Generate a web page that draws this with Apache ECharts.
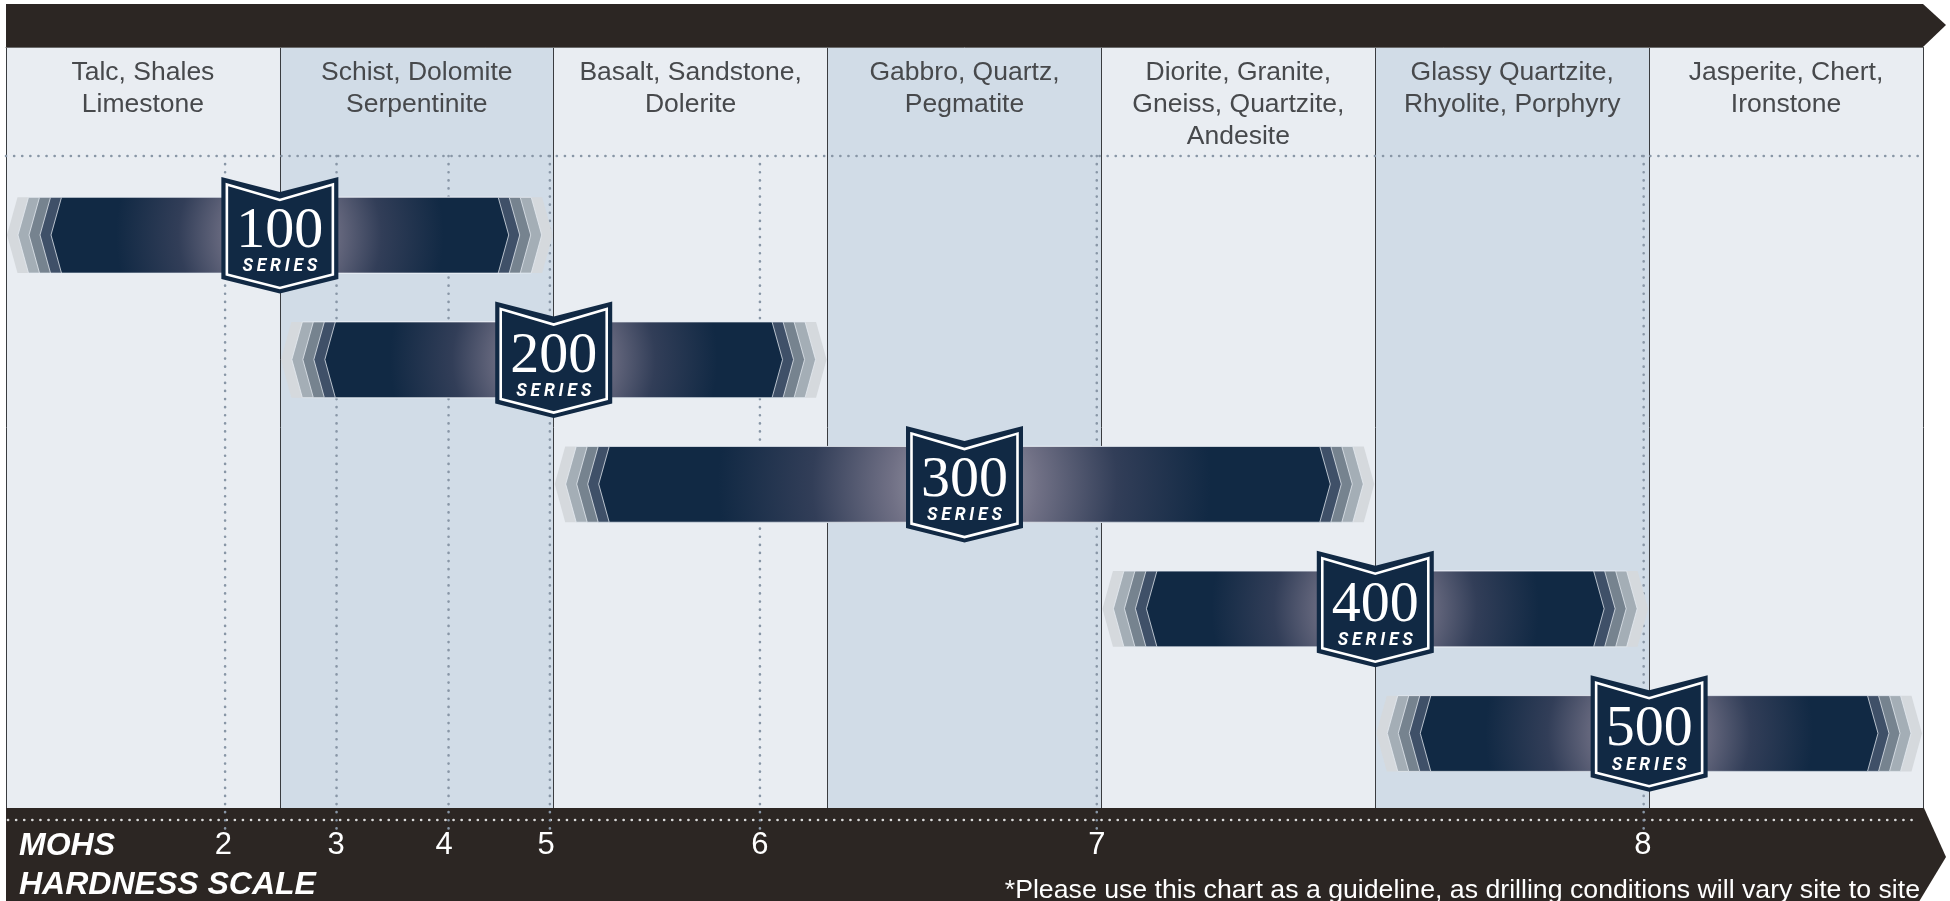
<!DOCTYPE html>
<html><head><meta charset="utf-8">
<style>html,body{margin:0;padding:0;background:#fff}#c{width:1950px;height:901px}</style>
<script src="https://cdn.jsdelivr.net/npm/echarts@6/dist/echarts.min.js"></script>
</head><body><div id="c"></div>
<script>
const rockGroups = ['Talc, Shales\nLimestone','Schist, Dolomite\nSerpentinite','Basalt, Sandstone,\nDolerite','Gabbro, Quartz,\nPegmatite','Diorite, Granite,\nGneiss, Quartzite,\nAndesite','Glassy Quartzite,\nRhyolite, Porphyry','Jasperite, Chert,\nIronstone'];
const seriesNames = ['100','200','300','400','500'];
const seriesStart = [0,1,2,4,5];
const seriesEnd = [2,3,5,6,7];
const seriesBadge = [1,2,3.5,5,6];
const mohsValues = ['2','3','4','5','6','7','8'];
const mohsGuide = [0.80,1.207,1.616,1.986,2.753,3.983,5.98];
const mohsLabel = [0.794,1.205,1.600,1.972,2.753,3.983,5.977];

const NAVY='#112944', DARK='#2c2623';
const chevron=['#d5d9dd','#a4aeb6','#76838f','#3f5068'];
const gridL=6, gridR=27, gridT=47, gridB=93;

// the "SERIES" caption is letter-spaced in the original
const nativeFill=CanvasRenderingContext2D.prototype.fillText;
CanvasRenderingContext2D.prototype.fillText=function(t,x,y,m){
  if(t==='SERIES'){
    const gap=3.8, prev=this.textAlign;
    let cx=x-(this.measureText(t).width+gap*(t.length-1))/2;
    this.textAlign='left';
    for(const ch of t){ nativeFill.call(this,ch,cx,y); cx+=this.measureText(ch).width+gap; }
    this.textAlign=prev;
    return;
  }
  return m===undefined?nativeFill.call(this,t,x,y):nativeFill.call(this,t,x,y,m);
};

const chart=echarts.init(document.getElementById('c'));

function poly(points,style,z2){return {type:'polygon',shape:{points},style,z2:z2||0,silent:true};}
function renderBar(params,api){
  const i=api.value(0);
  const cy=api.coord([0,i])[1];
  const halfH=(api.coord([0,i+1])[1]-cy)*0.302;
  const sx=api.coord([api.value(1),i])[0]+1;
  const ex=api.coord([api.value(2),i])[0]-1;
  const bx=api.coord([api.value(3),i])[0];
  const w=ex-sx, step=11, depth=10.5;
  const t=cy-halfH, b=cy+halfH+0.5;
  const kids=[];
  const hex=(k)=>[[sx+step*k,cy],[sx+step*k+depth,t],[ex-step*k-depth,t],[ex-step*k,cy],[ex-step*k-depth,b],[sx+step*k+depth,b]];
  chevron.forEach((c,k)=>{
    kids.push(poly(hex(k),{fill:c,stroke:'rgba(232,238,244,0.75)',lineWidth:k?1:0}));
  });
  const grad=new echarts.graphic.RadialGradient(bx,cy,w*0.3,[
    {offset:0,color:'#aeadb8'},{offset:0.3,color:'#707085'},{offset:0.62,color:'#323e58'},{offset:1,color:NAVY}],true);
  kids.push(poly(hex(4),{fill:grad,stroke:'rgba(232,238,244,0.75)',lineWidth:1}));
  // badge
  kids.push(poly([[bx-58.5,cy-58],[bx,cy-43],[bx+58.5,cy-58],[bx+58.5,cy+44],[bx,cy+58.5],[bx-58.5,cy+44]],{fill:NAVY}));
  kids.push(poly([[bx-53,cy-50.5],[bx,cy-35],[bx+53,cy-50.5],[bx+53,cy+39.5],[bx,cy+53],[bx-53,cy+39.5]],{fill:NAVY,stroke:'#fff',lineWidth:2.6}));
  kids.push({type:'text',style:{text:seriesNames[i],x:bx,y:cy-3,align:'center',verticalAlign:'middle',fill:'#fff',font:'400 58px "Liberation Serif"'}});
  kids.push({type:'text',style:{text:'SERIES',x:bx,y:cy+32,align:'center',verticalAlign:'middle',fill:'#fff',font:'italic 700 17.5px Roboto'}});
  return {type:'group',children:kids};
}
function renderGuide(params,api){
  const x=api.coord([api.value(0),0])[0];
  const lx=api.coord([api.value(1),0])[0];
  return {type:'group',children:[
    {type:'line',shape:{x1:x,y1:156,x2:x,y2:830},style:{stroke:'#8896a6',lineWidth:2.6,lineDash:[0.1,8],lineCap:'round'}},
    {type:'text',style:{text:mohsValues[params.dataIndex],x:lx,y:845,align:'center',verticalAlign:'middle',fill:'#fff',font:'400 31px "Liberation Sans"'}}
  ]};
}
chart.setOption({
  animation:false,
  backgroundColor:'#fff',
  grid:{left:gridL,right:gridR,top:gridT,bottom:gridB,containLabel:false},
  xAxis:[
    {type:'category',position:'top',data:rockGroups,boundaryGap:true,
     axisLine:{show:true,onZero:false,lineStyle:{color:'#6b6b6b',width:1}},axisTick:{show:false},
     axisLabel:{show:true,inside:true,interval:0,margin:10,fontFamily:'Liberation Sans',fontSize:26.5,lineHeight:32,color:'#47494c',verticalAlign:'top',align:'center'},
     splitArea:{show:true,interval:0,areaStyle:{color:['#e9edf2','#d1dce7']}},
     splitLine:{show:true,interval:0,lineStyle:{color:'#3a3c40',width:1}}},
    {type:'value',min:0,max:7,show:false,splitLine:{show:false}}
  ],
  yAxis:{type:'value',inverse:true,min:-1.509,max:4.6,show:false,splitLine:{show:false}},
  graphic:{elements:[
    {type:'polygon',z:1,silent:true,shape:{points:[[6,4],[1923,4],[1946,25],[1923,47],[6,47]]},style:{fill:DARK}},
    {type:'polygon',z:1,silent:true,shape:{points:[[6,808],[1924,808],[1946,857],[1917,905],[6,905]]},style:{fill:DARK}},
    {type:'line',z:1,silent:true,shape:{x1:6,y1:156,x2:1922,y2:156},style:{stroke:'#8896a6',lineWidth:2.6,lineDash:[0.1,8],lineCap:'round'}},
    {type:'line',z:1,silent:true,shape:{x1:8,y1:820,x2:1915,y2:820},style:{stroke:'#d9d9d9',lineWidth:2.6,lineDash:[0.1,8],lineCap:'round'}},
    {type:'text',z:5,silent:true,style:{text:'MOHS',x:19,y:846,verticalAlign:'middle',fill:'#fff',font:'italic 700 32px "Liberation Sans"'}},
    {type:'text',z:5,silent:true,style:{text:'HARDNESS SCALE',x:19,y:885.5,verticalAlign:'middle',fill:'#fff',font:'italic 700 32px "Liberation Sans"'}},
    {type:'text',z:5,silent:true,style:{text:'*Please use this chart as a guideline, as drilling conditions will vary site to site',x:1920,y:891,align:'right',verticalAlign:'middle',fill:'#fff',font:'400 26.7px "Liberation Sans"'}}
  ]},
  series:[
    {type:'custom',name:'Mohs',xAxisIndex:1,yAxisIndex:0,z:2,clip:false,silent:true,renderItem:renderGuide,
     data:mohsGuide.map((v,i)=>[v,mohsLabel[i]]),encode:{x:0}},
    {type:'custom',name:'Series',xAxisIndex:1,yAxisIndex:0,z:3,clip:false,silent:true,renderItem:renderBar,
     data:seriesNames.map((n,i)=>[i,seriesStart[i],seriesEnd[i],seriesBadge[i],+n]),encode:{x:[1,2],y:0}}
  ]
});
</script></body></html>
